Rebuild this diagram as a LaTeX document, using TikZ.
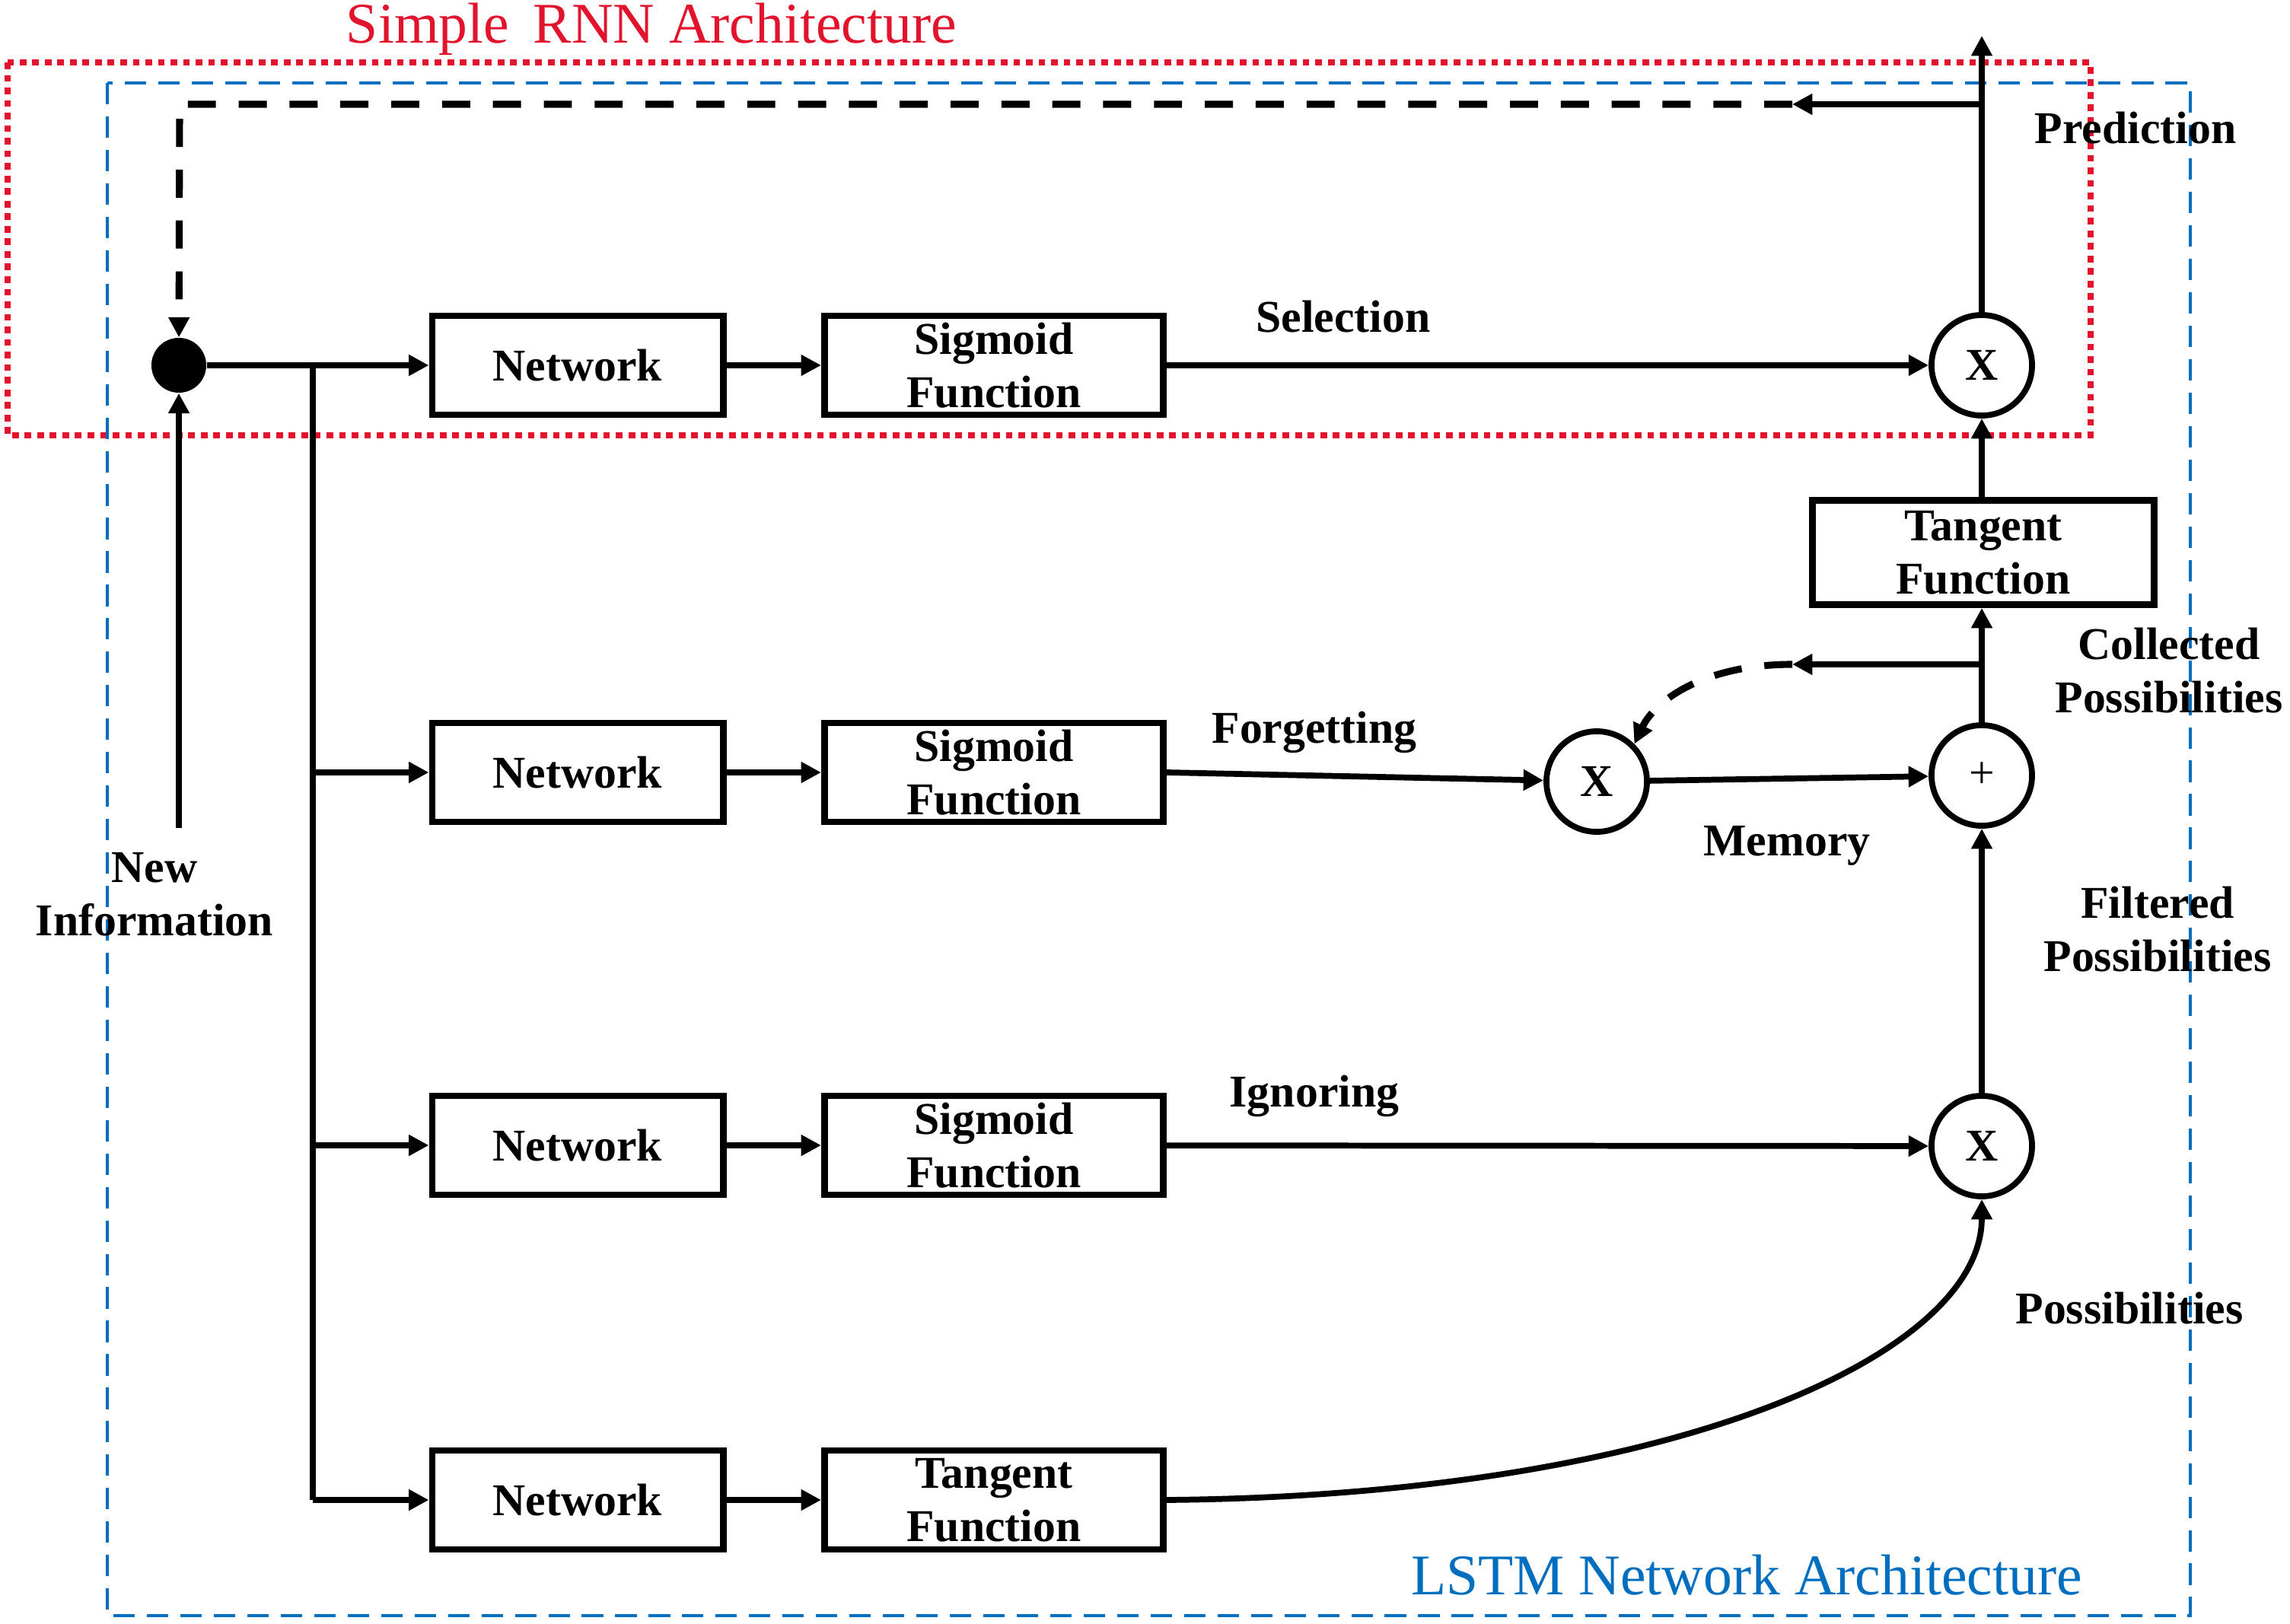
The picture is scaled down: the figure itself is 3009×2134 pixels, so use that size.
\documentclass[tikz,border=0pt]{standalone}
\usepackage{fontspec}
\setmainfont{Liberation Serif}
\usetikzlibrary{arrows.meta,positioning,calc}
\definecolor{rnnred}{RGB}{226,20,45}
\definecolor{lstmblue}{RGB}{0,110,190}

\begin{document}
\begin{tikzpicture}[x=0.01cm,y=-0.01cm,
  lbl/.style={font=\bfseries\fontsize{17}{20}\selectfont,align=center},
  box/.style={draw,line width=2.5pt,lbl,minimum height=1.3cm,inner sep=0pt},
  net/.style={box,minimum width=3.82cm},
  fun/.style={box,minimum width=4.45cm},
  opn/.style={draw,circle,line width=2.2pt,minimum size=1.32cm,inner sep=0pt,lbl},
  tip/.style={-{Triangle[length=7.5pt,width=7.5pt]}},
  flow/.style={tip,line width=2.2pt},
  fb/.style={tip,line width=2.6pt,dash pattern=on 10.5pt off 8.5pt},
  ttl/.style={font=\fontsize{21.5}{24}\selectfont,anchor=base},
]
\useasboundingbox (0,0) rectangle (3009,2134);
% frames
\draw[rnnred,line width=2.3pt,dash pattern=on 2.5pt off 2.2pt] (10,82) rectangle (2747,572);
\draw[lstmblue,line width=1.1pt,dash pattern=on 8pt off 4.5pt] (141,109) rectangle (2878,2123);
\node[ttl,text=rnnred] (trnn) at (856,57) {Simple\,\ RNN Architecture};
\node[ttl,text=lstmblue] (tlstm) at (2295,2095) {LSTM Network Architecture};
% input
\node[circle,fill,minimum size=0.72cm,inner sep=0pt] (dot) at (235,480) {};
\coordinate (ni) at (235,1088);
\node[lbl] (nilab) at (203,1175) {New\\Information};
\draw[flow] (ni) -- (dot);
% gate rows
\foreach \n/\y/\f in {1/480/Sigmoid,2/1015/Sigmoid,3/1505/Sigmoid,4/1971/Tangent}{
  \node[net] (net\n) at (759,\y) {Network};
  \node[fun] (fn\n) at (1306,\y) {\f\\Function};
  \coordinate (br\n) at (411,\y);
  \draw[flow] (net\n) -- (fn\n);
}
\draw[flow] (dot) -- (net1);
\draw[line width=2.2pt] (br1) -- (br4);
\foreach \n in {2,3,4}{\draw[flow] (br\n) -- (net\n);}
% operators
\node[opn] (mulS) at (2604,480) {X};
\node[opn] (mulF) at (2098,1027) {X};
\node[opn,font=\fontsize{17}{20}\selectfont] (add) at (2604,1019) {+};
\node[opn] (mulI) at (2604,1506) {X};
\node[box,minimum width=4.49cm,minimum height=1.37cm] (tanC) at (2606,726) {Tangent\\Function};
\draw[flow] (fn1) -- (mulS);
\draw[flow] (fn2.east) -- (mulF);
\draw[flow] (mulF) -- (add);
\draw[flow] (fn3) -- (mulI);
\draw[flow] (fn4.east) .. controls (2200,1965) and (2604,1780) .. (mulI.south);
\draw[flow] (mulI) -- (add);
\draw[flow] (add) -- (add |- tanC.south);
\draw[flow] (tanC.north -| mulS) -- (mulS);
\coordinate (out) at (2604,47);
\draw[flow] (mulS) -- (out);
% feedback loops
\coordinate (jm) at (2604,873);
\coordinate (am) at (2355,873);
\draw[flow] (jm) -- (am);
\draw[fb] (am) .. controls (2240,873) and (2175,920) .. (mulF.north east);
\coordinate (jp) at (2604,137);
\coordinate (ap) at (2355,137);
\coordinate (cp) at (236,137);
\draw[flow] (jp) -- (ap);
\draw[fb] (ap) -- (cp) -- (dot);
% labels
\node[lbl] (prlab) at (2806,168) {Prediction};
\node[lbl] (selab) at (1765,416) {Selection};
\node[lbl] (fglab) at (1727,962) {Forgetting};
\node[lbl] (iglab) at (1727,1440) {Ignoring};
\node[lbl] (mmlab) at (2348,1111) {Memory};
\node[lbl] (cplab) at (2850,881) {Collected\\Possibilities};
\node[lbl] (fplab) at (2835,1221) {Filtered\\Possibilities};
\node[lbl] (pslab) at (2798,1719) {Possibilities};
\end{tikzpicture}
\end{document}
